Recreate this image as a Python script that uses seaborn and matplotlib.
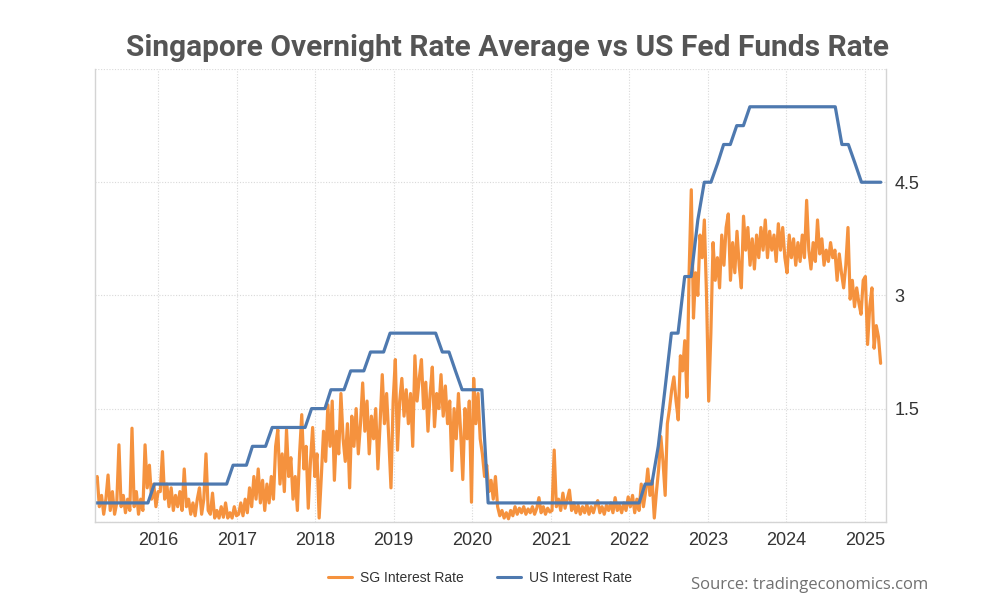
import pandas as pd
import numpy as np
import matplotlib
matplotlib.use("Agg")
import matplotlib.pyplot as plt
import matplotlib.dates as mdates
import seaborn as sns

# US Fed funds rate (upper bound), monthly, Mar 2015 - Mar 2025
us_rate = [
    # 2015 Mar-Dec
    0.25, 0.25, 0.25, 0.25, 0.25, 0.25, 0.25, 0.25, 0.25, 0.5,
    # 2016
    0.5, 0.5, 0.5, 0.5, 0.5, 0.5, 0.5, 0.5, 0.5, 0.5, 0.5, 0.75,
    # 2017
    0.75, 0.75, 1.0, 1.0, 1.0, 1.25, 1.25, 1.25, 1.25, 1.25, 1.25, 1.5,
    # 2018
    1.5, 1.5, 1.75, 1.75, 1.75, 2.0, 2.0, 2.0, 2.25, 2.25, 2.25, 2.5,
    # 2019
    2.5, 2.5, 2.5, 2.5, 2.5, 2.5, 2.5, 2.25, 2.25, 2.0, 1.75, 1.75,
    # 2020
    1.75, 1.75, 0.25, 0.25, 0.25, 0.25, 0.25, 0.25, 0.25, 0.25, 0.25, 0.25,
    # 2021
    0.25, 0.25, 0.25, 0.25, 0.25, 0.25, 0.25, 0.25, 0.25, 0.25, 0.25, 0.25,
    # 2022
    0.25, 0.25, 0.5, 0.5, 1.0, 1.75, 2.5, 2.5, 3.25, 3.25, 4.0, 4.5,
    # 2023
    4.5, 4.75, 5.0, 5.0, 5.25, 5.25, 5.5, 5.5, 5.5, 5.5, 5.5, 5.5,
    # 2024
    5.5, 5.5, 5.5, 5.5, 5.5, 5.5, 5.5, 5.5, 5.0, 5.0, 4.75, 4.5,
    # 2025 Jan-Mar
    4.5, 4.5, 4.5,
]

# SORA, roughly every 10 days
sg_2015 = [0.55, 0.6, 0.2, 0.35, 0.1, 0.3, 0.62, 0.15, 0.4, 0.1, 0.25, 1.02, 0.2, 0.35, 0.12,
           0.3, 0.15, 1.24, 0.2, 0.4, 0.1, 0.3, 0.15, 1.02, 0.45, 0.75, 0.3, 0.5, 0.2, 0.4]
sg_2016 = [0.4, 0.93, 0.3, 0.5, 0.2, 0.45, 0.15, 0.35, 0.2, 0.4, 0.15, 0.7, 0.2, 0.3, 0.1, 0.25,
           0.08, 0.3, 0.45, 0.1, 0.3, 0.9, 0.15, 0.1, 0.38, 0.05, 0.15, 0.05, 0.2, 0.06, 0.25,
           0.05, 0.12, 0.05, 0.2, 0.08]
sg_2017 = [0.1, 0.25, 0.08, 0.3, 0.12, 0.45, 0.2, 0.6, 0.3, 0.7, 0.25, 0.55, 0.15, 0.5, 0.25,
           0.6, 0.3, 1.0, 1.22, 0.5, 0.9, 0.4, 1.22, 0.6, 0.85, 0.3, 0.6, 0.15, 0.9, 1.42, 0.7,
           1.0, 0.18, 0.8, 1.25, 0.6]
sg_2018 = [0.9, 0.05, 0.6, 1.2, 0.8, 1.55, 1.0, 1.6, 0.55, 1.2, 0.9, 1.7, 1.1, 0.8, 1.3, 0.45,
           1.4, 1.0, 1.5, 0.9, 1.3, 1.84, 1.2, 1.6, 0.9, 1.4, 1.1, 1.5, 0.7, 1.3, 1.95, 1.3,
           1.7, 1.1, 0.45, 1.6]
sg_2019 = [2.15, 0.95, 1.6, 1.9, 1.4, 1.75, 1.3, 1.7, 1.0, 2.2, 1.6, 1.9, 2.15, 1.5, 1.85, 1.2,
           1.7, 2.05, 1.26, 1.7, 1.5, 1.95, 1.4, 1.8, 1.3, 1.6, 0.68, 1.5, 1.1, 1.7, 1.2, 0.56,
           1.5, 1.1, 1.6, 0.26]
sg_2020 = [1.9, 1.3, 1.7, 1.1, 0.9, 0.6, 0.75, 0.4, 0.55, 0.3, 0.6, 0.2, 0.08, 0.15, 0.05, 0.12,
           0.04, 0.15, 0.08, 0.2, 0.1, 0.18, 0.12, 0.2, 0.1, 0.17, 0.12, 0.2, 0.1, 0.18, 0.32,
           0.12, 0.2, 0.1, 0.18, 0.13]
sg_2021 = [0.15, 0.95, 0.2, 0.3, 0.15, 0.38, 0.18, 0.3, 0.42, 0.15, 0.25, 0.12, 0.22, 0.1, 0.2,
           0.12, 0.23, 0.1, 0.2, 0.12, 0.22, 0.28, 0.12, 0.2, 0.1, 0.22, 0.15, 0.25, 0.12, 0.32,
           0.15, 0.22, 0.12, 0.25, 0.15, 0.33]
sg_2022 = [0.2, 0.35, 0.12, 0.3, 0.15, 0.5, 0.2, 0.4, 0.7, 0.35, 0.55, 0.05, 0.4, 0.7, 1.13, 0.8,
           0.35, 1.3, 1.5, 1.75, 1.92, 1.6, 1.35, 2.2, 2.0, 2.4, 1.65, 3.3, 4.4, 2.7, 3.3, 3.0,
           3.8, 3.5, 4.0, 3.0]
sg_2023 = [1.6, 2.5, 3.7, 3.2, 3.5, 3.1, 3.8, 3.4, 3.9, 4.08, 3.2, 3.7, 3.3, 3.85, 3.4, 3.1,
           4.05, 3.6, 3.9, 3.4, 3.75, 3.35, 3.8, 3.5, 3.9, 3.6, 4.0, 3.5, 3.85, 3.6, 3.8, 3.45,
           3.95, 3.6, 3.9, 3.5]
sg_2024 = [3.3, 3.8, 3.5, 3.75, 3.4, 3.7, 3.45, 3.8, 3.5, 4.26, 3.6, 3.35, 3.7, 3.45, 4.0, 3.55,
           3.75, 3.4, 3.6, 3.45, 3.7, 3.5, 3.6, 3.2, 3.55, 3.3, 3.1, 3.4, 3.9, 2.95, 3.2, 2.85,
           3.1, 2.9, 2.75, 3.2]
sg_2025 = [3.25, 2.35, 2.85, 3.1, 2.3, 2.6, 2.45, 2.1]

sg_rate = sg_2015 + sg_2016 + sg_2017 + sg_2018 + sg_2019 + sg_2020 + sg_2021 + sg_2022 + sg_2023 + sg_2024 + sg_2025

title = "Singapore Overnight Rate Average vs US Fed Funds Rate"
source = "Source: tradingeconomics.com"
y_ticks = [0, 1.5, 3, 4.5, 6]
y_labels = ["", "1.5", "3", "4.5", ""]

sg_color = "#F5923E"
us_color = "#4E79AF"

sg = pd.DataFrame({"date": pd.date_range("2015-03-14", "2025-03-14", periods=len(sg_rate)),
                   "rate": sg_rate})
us = pd.DataFrame({"date": pd.date_range("2015-03-01", periods=len(us_rate), freq="MS") + pd.Timedelta(days=14),
                   "rate": us_rate})

sns.set_style("white")
plt.rcParams["font.family"] = ["Liberation Sans", "DejaVu Sans"]

fig = plt.figure(figsize=(10, 6.11), dpi=100)
ax = fig.add_axes([0.095, 0.146, 0.791, 0.741])

sns.lineplot(data=sg, x="date", y="rate", color=sg_color, linewidth=2.3, ax=ax, label="SG Interest Rate")
sns.lineplot(data=us, x="date", y="rate", color=us_color, linewidth=2.3, ax=ax, label="US Interest Rate")

ax.set_xlim(pd.Timestamp("2015-03-14"), pd.Timestamp("2025-04-08"))
ax.set_ylim(0, 6)
ax.set_xlabel("")
ax.set_ylabel("")

ax.xaxis.set_major_locator(mdates.YearLocator())
ax.xaxis.set_major_formatter(mdates.DateFormatter("%Y"))
ax.yaxis.tick_right()
ax.set_yticks(y_ticks)
ax.set_yticklabels(y_labels)
ax.tick_params(axis="both", length=0, labelsize=13, labelcolor="#333333")
ax.tick_params(axis="x", pad=7)
ax.tick_params(axis="y", pad=6)

ax.grid(True, color="#d9d9d9", linestyle=(0, (1, 1.5)), linewidth=0.8)
for side in ["left", "right", "bottom"]:
    ax.spines[side].set_color("#d4d4d4")
    ax.spines[side].set_linewidth(1.0)
ax.spines["top"].set_visible(False)

ax.get_legend().remove()
handles, labels = ax.get_legend_handles_labels()
leg = fig.legend(handles, labels, loc="center", bbox_to_anchor=(0.48, 0.054), ncol=2, frameon=False,
                 handlelength=1.7, handletextpad=0.6, columnspacing=2.4,
                 prop={"family": ["Liberation Sans", "DejaVu Sans"], "size": 10})
for line in leg.get_lines():
    line.set_linewidth(2.2)
for txt in leg.get_texts():
    txt.set_color("#333333")

fig.text(0.507, 0.921, title, ha="center", va="center", fontsize=21.5, fontweight="bold",
         color="#555555", family=["Roboto", "DejaVu Sans"])
fig.text(0.691, 0.042, source, ha="left", va="center", fontsize=12, color="#707070",
         family=["Open Sans", "DejaVu Sans"])

fig.savefig("out.png", dpi=100, facecolor="white")
